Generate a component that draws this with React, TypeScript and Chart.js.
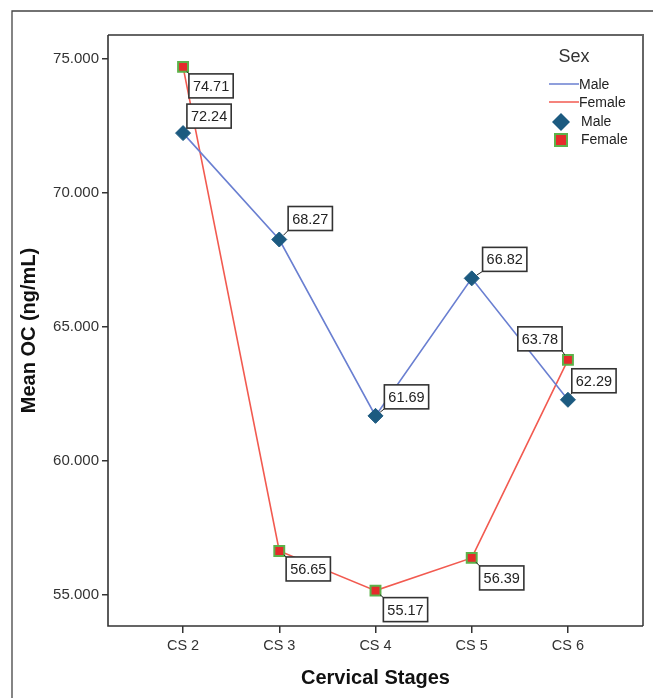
import React, { useEffect, useRef } from "react";
import { Chart, registerables } from "chart.js";

Chart.register(...registerables);

const stages = ["CS 2", "CS 3", "CS 4", "CS 5", "CS 6"];
const stagePositions = [2, 3, 4, 5, 6];
const maleValues = [72.24, 68.27, 61.69, 66.82, 62.29];
const femaleValues = [74.71, 56.65, 55.17, 56.39, 63.78];
const yTickValues = [55, 60, 65, 70, 75];

// label box offsets (style only): [dx, dy] from point to box centre
const maleLabelOffsets = [[26, -17], [31, -21], [31, -19], [33, -19], [26, -19]];
const femaleLabelOffsets = [[28, 19], [29, 18], [30, 19], [30, 20], [-28, -21]];

const FONT = "'Liberation Sans', Arial, sans-serif";

const framePlugin = {
  id: "framePlugin",
  beforeDraw(chart: any) {
    const ctx = chart.ctx;
    ctx.save();
    ctx.fillStyle = "#ffffff";
    ctx.fillRect(0, 0, chart.width, chart.height);
    ctx.strokeStyle = "#444";
    ctx.lineWidth = 1.3;
    ctx.beginPath();
    ctx.moveTo(12, chart.height);
    ctx.lineTo(12, 11);
    ctx.lineTo(chart.width, 11);
    ctx.stroke();
    ctx.restore();
  },
  afterDraw(chart: any) {
    const ctx = chart.ctx;
    const a = chart.chartArea;
    ctx.save();
    ctx.strokeStyle = "#666";
    ctx.lineWidth = 2;
    ctx.beginPath();
    ctx.moveTo(a.left, a.top);
    ctx.lineTo(a.right, a.top);
    ctx.lineTo(a.right, a.bottom);
    ctx.stroke();
    ctx.strokeStyle = "#333";
    ctx.lineWidth = 1.6;
    ctx.beginPath();
    ctx.moveTo(a.left, a.top);
    ctx.lineTo(a.left, a.bottom);
    ctx.lineTo(a.right, a.bottom);
    ctx.stroke();

    // value labels
    const sets = [
      { idx: 0, offs: maleLabelOffsets, vals: maleValues },
      { idx: 1, offs: femaleLabelOffsets, vals: femaleValues },
    ];
    ctx.font = `14.5px ${FONT}`;
    ctx.textAlign = "center";
    ctx.textBaseline = "middle";
    for (const s of sets) {
      const meta = chart.getDatasetMeta(s.idx);
      meta.data.forEach((pt: any, i: number) => {
        const txt = s.vals[i].toFixed(2);
        const w = ctx.measureText(txt).width + 8;
        const h = 24;
        const cx = pt.x + s.offs[i][0];
        const cy = pt.y + s.offs[i][1];
        const bx = cx - w / 2;
        const by = cy - h / 2;
        const corners = [
          [bx, by], [bx + w, by], [bx, by + h], [bx + w, by + h],
        ];
        let best = corners[0];
        let bd = 1e9;
        for (const c of corners) {
          const d = Math.hypot(c[0] - pt.x, c[1] - pt.y);
          if (d < bd) { bd = d; best = c; }
        }
        const dx = best[0] - pt.x;
        const dy = best[1] - pt.y;
        const len = Math.hypot(dx, dy);
        const start = 6;
        if (len > start) {
          ctx.strokeStyle = "#222";
          ctx.lineWidth = 1;
          ctx.beginPath();
          ctx.moveTo(pt.x + (dx / len) * start, pt.y + (dy / len) * start);
          ctx.lineTo(best[0], best[1]);
          ctx.stroke();
        }
        ctx.fillStyle = "#fff";
        ctx.fillRect(bx, by, w, h);
        ctx.strokeStyle = "#333";
        ctx.lineWidth = 1.6;
        ctx.strokeRect(bx, by, w, h);
        ctx.fillStyle = "#222";
        ctx.fillText(txt, cx, cy + 1);
      });
    }

    // legend
    ctx.fillStyle = "#333";
    ctx.font = `18px ${FONT}`;
    ctx.textAlign = "center";
    ctx.fillText("Sex", 574, 57);
    ctx.font = `14px ${FONT}`;
    ctx.textAlign = "left";
    ctx.lineWidth = 1.5;
    ctx.strokeStyle = "#6a7fd1";
    ctx.beginPath(); ctx.moveTo(549, 84); ctx.lineTo(579, 84); ctx.stroke();
    ctx.strokeStyle = "#f25a50";
    ctx.beginPath(); ctx.moveTo(549, 102); ctx.lineTo(579, 102); ctx.stroke();
    ctx.fillStyle = "#222";
    ctx.fillText("Male", 579, 85);
    ctx.fillText("Female", 579, 103);
    ctx.fillStyle = "#1c5a80";
    ctx.beginPath();
    ctx.moveTo(561, 113); ctx.lineTo(570, 122); ctx.lineTo(561, 131); ctx.lineTo(552, 122);
    ctx.closePath(); ctx.fill();
    ctx.fillStyle = "#e52b2b";
    ctx.fillRect(555, 134, 12, 12);
    ctx.strokeStyle = "#5cb24a";
    ctx.lineWidth = 2;
    ctx.strokeRect(555, 134, 12, 12);
    ctx.fillStyle = "#222";
    ctx.fillText("Male", 581, 122);
    ctx.fillText("Female", 581, 140);
    ctx.restore();
  },
};

export default function App() {
  const ref = useRef<HTMLCanvasElement | null>(null);
  useEffect(() => {
    if (!ref.current) return;
    const chart = new Chart(ref.current, {
      type: "line",
      data: {
        datasets: [
          {
            label: "Male",
            data: stagePositions.map((x, i) => ({ x, y: maleValues[i] })),
            borderColor: "#6a7fd1",
            borderWidth: 1.6,
            pointStyle: "rectRot",
            pointRadius: 7.5,
            pointBackgroundColor: "#1c5a80",
            pointBorderColor: "#1c5a80",
            pointBorderWidth: 1,
            tension: 0,
          },
          {
            label: "Female",
            data: stagePositions.map((x, i) => ({ x, y: femaleValues[i] })),
            borderColor: "#f25a50",
            borderWidth: 1.6,
            pointStyle: "rect",
            pointRadius: 7,
            pointBackgroundColor: "#e52b2b",
            pointBorderColor: "#5cb24a",
            pointBorderWidth: 2,
            tension: 0,
          },
        ],
      },
      options: {
        responsive: false,
        animation: false,
        layout: { padding: { left: 0, top: 35, right: 10, bottom: 0 } },
        plugins: { legend: { display: false }, tooltip: { enabled: false } },
        scales: {
          x: {
            type: "linear",
            min: 1.22,
            max: 6.78,
            afterBuildTicks: (s: any) => {
              s.ticks = stagePositions.map((v) => ({ value: v }));
            },
            afterFit: (s: any) => { s.height = 72; },
            grid: { drawOnChartArea: false, drawTicks: true, tickLength: 7, color: "#333", lineWidth: 1.5 },
            border: { display: false },
            ticks: {
              callback: (v: any) => stages[stagePositions.indexOf(Number(v))] ?? "",
              color: "#333",
              font: { family: FONT, size: 14.5 },
              padding: 4,
              maxRotation: 0,
              autoSkip: false,
            },
            title: {
              display: true,
              text: "Cervical Stages",
              color: "#111",
              font: { family: FONT, size: 20, weight: "bold" },
              padding: { top: 0, bottom: 8 },
            },
          },
          y: {
            min: 53.85,
            max: 75.9,
            afterBuildTicks: (s: any) => {
              s.ticks = yTickValues.map((v) => ({ value: v }));
            },
            afterFit: (s: any) => { s.width = 108; },
            grid: { drawOnChartArea: false, drawTicks: true, tickLength: 6, color: "#333", lineWidth: 1.5 },
            border: { display: false },
            ticks: {
              callback: (v: any) => Number(v).toFixed(3),
              color: "#333",
              font: { family: FONT, size: 15 },
              padding: 3,
            },
            title: {
              display: true,
              text: "Mean OC (ng/mL)",
              color: "#111",
              font: { family: FONT, size: 20, weight: "bold" },
              padding: { top: 17, bottom: 0 },
            },
          },
        },
      },
      plugins: [framePlugin],
    } as any);
    return () => chart.destroy();
  }, []);
  return (
    <div style={{ position: "fixed", left: 0, top: 0, width: 653, height: 698 }}>
      <canvas ref={ref} width={653} height={698} style={{ width: 653, height: 698, display: "block" }} />
    </div>
  );
}
